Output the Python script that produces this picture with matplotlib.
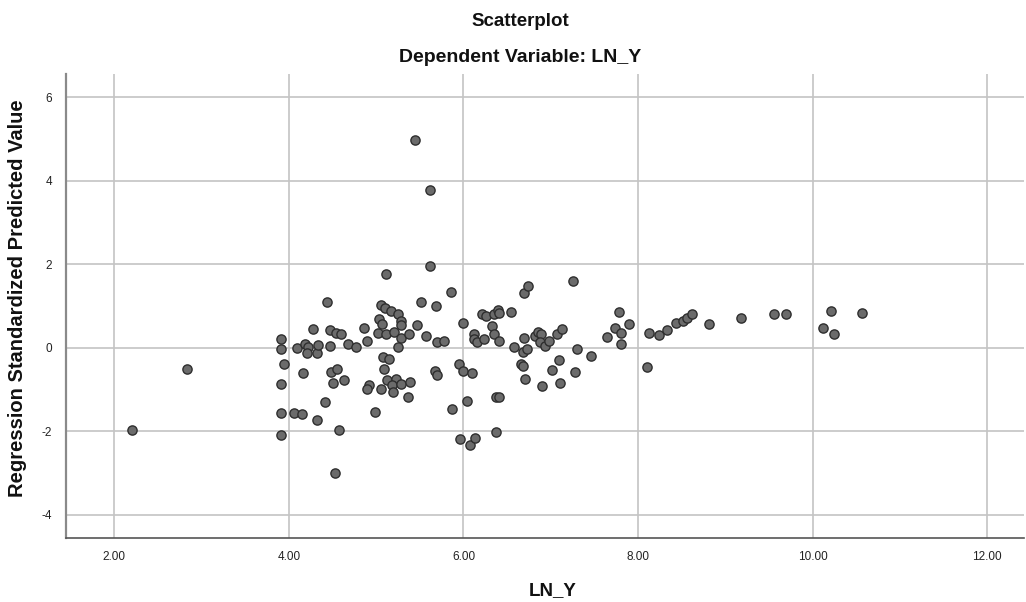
import matplotlib
matplotlib.use("Agg")
import matplotlib.pyplot as plt

# LN_Y (x) and Regression Standardized Predicted Value (y)
ln_y = [
    2.20, 2.83, 3.91, 3.91, 3.94, 3.91, 3.91, 3.91, 4.06, 4.15,
    4.32, 4.41, 4.16, 4.28, 4.47, 4.54, 4.60, 4.09, 4.18, 4.22,
    4.21, 4.32, 4.33, 4.47, 4.48, 4.55, 4.50, 4.63, 4.57, 4.53,
    4.44, 4.86, 4.90, 4.68, 4.77, 4.99, 5.06, 5.10, 5.17, 5.25,
    5.29, 5.29, 5.03, 5.07, 5.02, 5.11, 5.20, 5.28, 5.25, 5.08,
    5.15, 5.09, 5.12, 5.23, 5.18, 5.19, 5.29, 5.39, 5.37, 5.05,
    4.92, 4.89, 5.51, 5.69, 5.47, 5.38, 5.57, 5.70, 5.78, 5.67,
    5.70, 5.95, 5.99, 6.10, 6.04, 5.87, 5.96, 6.07, 6.13, 6.37,
    6.37, 6.41, 6.00, 6.12, 6.12, 6.15, 6.23, 6.21, 6.26, 6.35,
    6.40, 6.41, 6.55, 6.33, 6.35, 6.41, 6.58, 6.69, 6.68, 6.73,
    6.82, 6.85, 6.89, 6.88, 6.93, 6.98, 7.07, 7.13, 7.30, 6.66,
    6.68, 6.71, 7.01, 7.10, 6.90, 7.11, 7.28, 7.46, 7.64, 7.78,
    7.90, 7.74, 7.81, 7.80, 8.12, 8.24, 8.10, 8.33, 8.43, 8.51,
    8.56, 8.62, 8.81, 9.18, 9.56, 9.69, 10.12, 10.21, 10.24, 10.57,
    5.45, 5.62, 5.62, 5.11, 5.86, 6.69, 6.74, 7.26,
]
pred_std = [
    -1.98, -0.51, 0.22, -0.04, -0.38, -0.86, -1.56, -2.08, -1.56, -1.58,
    -1.72, -1.29, -0.60, 0.44, 0.42, 0.35, 0.32, -0.01, 0.09, 0.02,
    -0.13, -0.13, 0.06, 0.04, -0.59, -0.52, -0.85, -0.78, -1.96, -2.99,
    1.09, 0.47, 0.16, 0.10, 0.02, -1.54, 1.02, 0.96, 0.88, 0.81,
    0.64, 0.54, 0.70, 0.58, 0.35, 0.34, 0.37, 0.24, 0.02, -0.23,
    -0.27, -0.50, -0.77, -0.74, -0.90, -1.07, -0.86, -0.82, -1.19, -0.98,
    -0.90, -0.98, 1.09, 1.00, 0.54, 0.32, 0.28, 0.14, 0.16, -0.56,
    -0.66, -0.38, -0.56, -0.60, -1.28, -1.47, -2.19, -2.32, -2.17, -2.03,
    -1.18, -1.18, 0.59, 0.34, 0.22, 0.13, 0.20, 0.80, 0.75, 0.80,
    0.91, 0.83, 0.86, 0.51, 0.32, 0.16, 0.02, 0.24, -0.11, -0.02,
    0.28, 0.37, 0.32, 0.13, 0.04, 0.16, 0.32, 0.44, -0.02, -0.38,
    -0.44, -0.75, -0.54, -0.30, -0.92, -0.84, -0.58, -0.20, 0.26, 0.86,
    0.58, 0.47, 0.36, 0.10, 0.35, 0.30, -0.46, 0.42, 0.59, 0.64,
    0.71, 0.80, 0.56, 0.72, 0.82, 0.82, 0.48, 0.87, 0.32, 0.84,
    4.99, 3.77, 1.95, 1.76, 1.34, 1.32, 1.49, 1.59,
]

x_ticks = [2, 4, 6, 8, 10, 12]
x_ticklabels = ["2.00", "4.00", "6.00", "8.00", "10.00", "12.00"]
y_ticks = [-4, -2, 0, 2, 4, 6]
y_ticklabels = ["-4", "-2", "0", "2", "4", "6"]

title = "Scatterplot"
subtitle = "Dependent Variable: LN_Y"
x_label = "LN_Y"
y_label = "Regression Standardized Predicted Value"

plt.rcParams['font.family'] = ['Liberation Sans', 'DejaVu Sans']

fig = plt.figure(figsize=(10.26, 6.02), dpi=100)
ax = fig.add_axes([0.0643, 0.1063, 0.9337, 0.7707])

ax.set_xlim(1.447, 12.42)
ax.set_ylim(-4.56, 6.56)

ax.grid(True, color='#c4c4c4', linewidth=1.2)
ax.set_axisbelow(True)

ax.scatter(ln_y, pred_std, s=44, facecolor='#6b6b6b', edgecolor='#2e2e2e',
           linewidths=1.0, zorder=3)

ax.set_xticks(x_ticks)
ax.set_xticklabels(x_ticklabels)
ax.set_yticks(y_ticks)
ax.set_yticklabels(y_ticklabels)
tick_font = ['Liberation Sans Narrow', 'Liberation Sans', 'DejaVu Sans']
for lab in ax.get_xticklabels() + ax.get_yticklabels():
    lab.set_family(tick_font)
    lab.set_fontsize(8.5)
    lab.set_color('#222222')
ax.tick_params(axis='both', length=0)
ax.tick_params(axis='x', pad=9)
ax.tick_params(axis='y', pad=10)

for side in ['top', 'right']:
    ax.spines[side].set_visible(False)
ax.spines['left'].set_color('#8a8a8a')
ax.spines['left'].set_linewidth(1.6)
ax.spines['bottom'].set_color('#555555')
ax.spines['bottom'].set_linewidth(1.2)

fig.text(0.507, 1 - 22 / 602, title, ha='center', va='center',
         fontsize=13.5, fontweight='bold', color='#111111')
fig.text(0.507, 1 - 58 / 602, subtitle, ha='center', va='center',
         fontsize=14, fontweight='bold', color='#111111')
fig.text(0.539, 1 - 591 / 602, x_label, ha='center', va='center',
         fontsize=13.5, fontweight='bold', color='#111111')
fig.text(18 / 1026, 1 - 298 / 602, y_label, ha='center', va='center',
         rotation=90, fontsize=14.5, fontweight='bold', color='#111111')

fig.savefig('out.png', dpi=100)
